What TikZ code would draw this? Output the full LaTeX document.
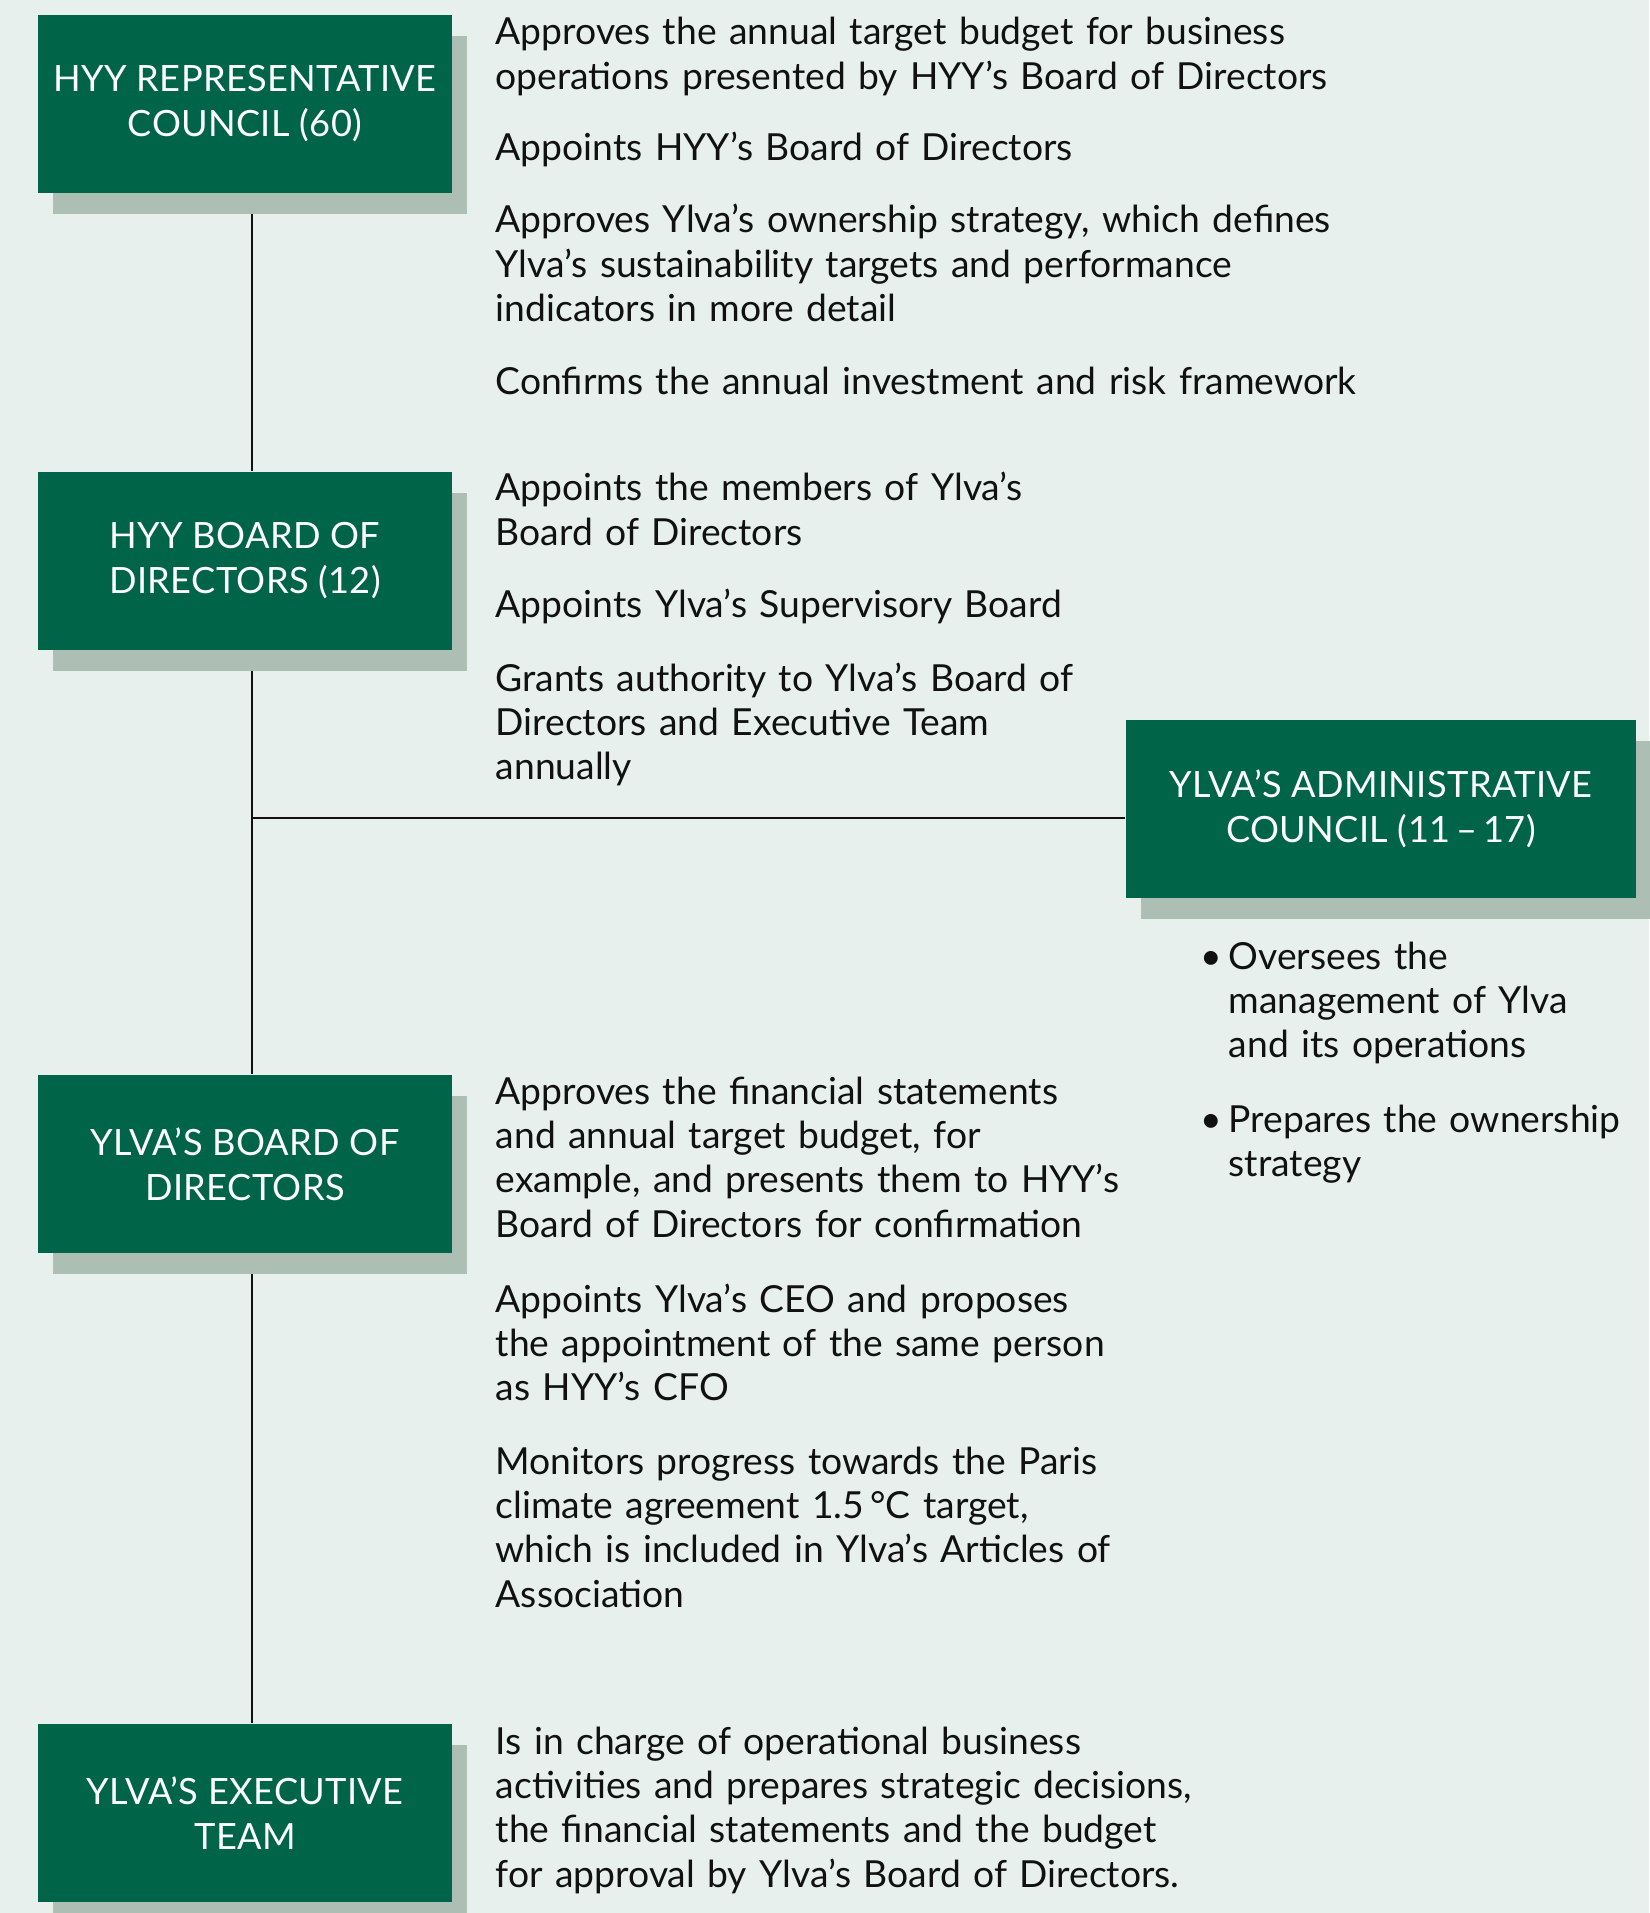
\documentclass[tikz,border=0pt]{standalone}
\usepackage{fontspec}
\setmainfont{Lato}
\usetikzlibrary{shadows,backgrounds}
\definecolor{bgc}{HTML}{E7F0EC}
\definecolor{boxc}{HTML}{006548}
\definecolor{shadc}{HTML}{ADBFB5}
\definecolor{ink}{HTML}{111111}
\newcommand{\bodyfont}{\fontsize{10.6}{12.65}\selectfont}
\newcommand{\boxfont}{\fontsize{10.3}{12.8}\selectfont\addfontfeatures{LetterSpace=1}}
\begin{document}
\begin{tikzpicture}[x=0.1mm,y=-0.1mm,
  gbox/.style={fill=boxc, text=white, minimum width=41.4mm, minimum height=17.8mm,
    align=center, inner sep=0pt, font=\boxfont,
    drop shadow={shadow xshift=1.5mm, shadow yshift=-2.1mm, fill=shadc, opacity=1}},
  txt/.style={anchor=base west, inner sep=0pt, align=left, text width=100mm, text=ink, font=\bodyfont},
  link/.style={line width=0.75pt, draw=ink}]
\useasboundingbox (0,0) rectangle (1649,1913);

\node[gbox] (rep) at (245,104) {HYY REPRESENTATIVE\\COUNCIL (60)};
\node[gbox] (hyyb) at (245,561) {HYY BOARD OF\\DIRECTORS (12)};
\node[gbox] (ylvab) at (245,1164) {YLVA’S BOARD OF\\DIRECTORS};
\node[gbox] (exec) at (245,1813) {YLVA’S EXECUTIVE\\TEAM};
\node[gbox, minimum width=51mm] (admin) at (1381,809) {YLVA’S ADMINISTRATIVE\\COUNCIL (11\,–\,17)};

\coordinate (junc) at (252,818);
\begin{scope}[on background layer]
\fill[bgc] (0,0) rectangle (1649,1913);
\draw[link] ([xshift=0.7mm]rep.south) -- ([xshift=0.7mm]hyyb.north);
\draw[link] ([xshift=0.7mm]hyyb.south) -- ([xshift=0.7mm]ylvab.north);
\draw[link] ([xshift=0.7mm]ylvab.south) -- ([xshift=0.7mm]exec.north);
\draw[link] (junc) -- (junc -| admin.west);
\end{scope}

\node[txt] (a1) at (495,45) {Approves the annual target budget for business\\operations presented by HYY’s Board of Directors};
\node[txt] (a2) at (495,161) {Appoints HYY’s Board of Directors};
\node[txt] (a3) at (495,233) {Approves Ylva’s ownership strategy, which defines\\Ylva’s sustainability targets and performance\\indicators in more detail};
\node[txt] (a4) at (495,395) {Confirms the annual investment and risk framework};

\node[txt] (b1) at (495,501) {Appoints the members of Ylva’s\\Board of Directors};
\node[txt] (b2) at (495,618) {Appoints Ylva’s Supervisory Board};
\node[txt] (b3) at (495,691) {Grants authority to Ylva’s Board of\\Directors and Executive Team\\annually};

\node[txt] (c1) at (495,1104) {Approves the financial statements\\and annual target budget, for\\example, and presents them to HYY’s\\Board of Directors for confirmation};
\node[txt] (c2) at (495,1312) {Appoints Ylva’s CEO and proposes\\the appointment of the same person\\as HYY’s CFO};
\node[txt] (c3) at (495,1474) {Monitors progress towards the Paris\\climate agreement 1.5\,°C target,\\which is included in Ylva’s Articles of\\Association};

\node[txt] (d1) at (495,1754) {Is in charge of operational business\\activities and prepares strategic decisions,\\the financial statements and the budget\\for approval by Ylva’s Board of Directors.};

\node[txt, text width=5mm] (bul1) at (1200,969) {•};
\node[txt, text width=42mm] (e1) at (1228,969) {Oversees the\\management of Ylva\\and its operations};
\node[txt, text width=5mm] (bul2) at (1200,1132) {•};
\node[txt, text width=42mm] (e2) at (1228,1132) {Prepares the ownership\\strategy};
\end{tikzpicture}
\end{document}
